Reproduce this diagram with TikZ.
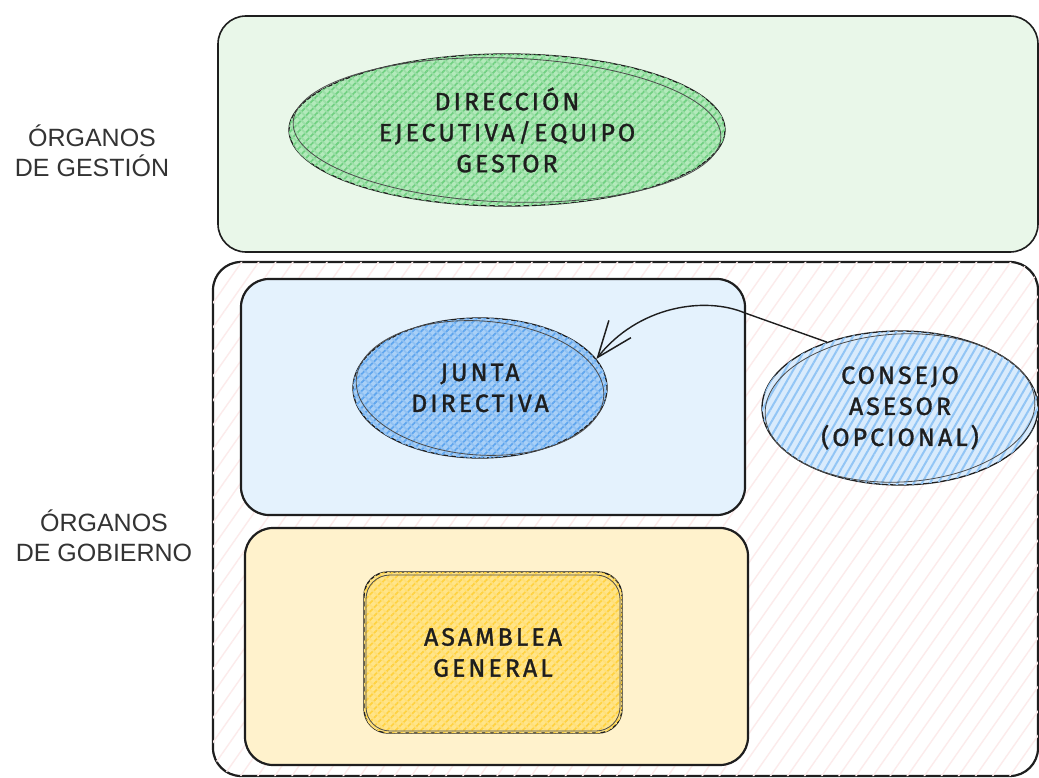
\documentclass[tikz,border=0pt]{standalone}
\usepackage{fontspec}
\setmainfont{Liberation Sans}
\newfontfamily\hand[LetterSpace=12,FakeBold=1.2]{Fira Sans}
\usetikzlibrary{shapes.geometric,patterns.meta,arrows.meta}
\definecolor{gbg}{HTML}{E9F7E9}
\definecolor{gbase}{HTML}{B3EABB}
\definecolor{ghatch}{HTML}{6FD080}
\definecolor{bbg}{HTML}{E4F2FD}
\definecolor{bbase}{HTML}{A9D0F7}
\definecolor{bhatch}{HTML}{5EA5EE}
\definecolor{cbase}{HTML}{D9EBFC}
\definecolor{chatch}{HTML}{92C5F5}
\definecolor{ybg}{HTML}{FFF2CC}
\definecolor{ybase}{HTML}{FFE58A}
\definecolor{yhatch}{HTML}{FFD23F}
\definecolor{phatch}{HTML}{FCEBEB}
\definecolor{ink}{HTML}{1E1E1E}
\definecolor{lbltext}{HTML}{333333}
\begin{document}
\begin{tikzpicture}[x=1pt,y=-1pt,
  sidelabel/.style={font=\fontsize{25}{30}\selectfont, align=center, text=lbltext},
  handtext/.style={font=\hand\fontsize{25}{31}\selectfont, align=center, text=ink},
  bigbox/.style={draw=ink, line width=2.2pt, rounded corners=28pt, inner sep=0pt},
  sketchell/.style={ellipse, draw=ink, line width=1.3pt, inner sep=0pt},
  sketch2/.style={draw=ink!80, line width=0.8pt},
  xhatch/.style 2 args={postaction={pattern={Lines[angle=45,distance=6pt,line width=1.8pt]}, pattern color=#1},
                        postaction={pattern={Lines[angle=-45,distance=6pt,line width=1.8pt]}, pattern color=#2}},
  arr/.style={draw=ink, line width=1.4pt, -{Straight Barb[length=36pt,width=28pt,line width=1.5pt]}}
]
\useasboundingbox (0,0) rectangle (1039,778);
\fill[white] (0,0) rectangle (1039,778);

% top green box
\node[bigbox, fill=gbg, line width=1.6pt, minimum width=820pt, minimum height=236pt] (gestion) at (628,134) {};
% outer gobierno box
\node[bigbox, fill=white, minimum width=825pt, minimum height=514pt,
      postaction={pattern={Lines[angle=55,distance=14pt,line width=1.4pt]}, pattern color=phatch}] (gobierno) at (625.5,519) {};
% blue box
\node[bigbox, fill=bbg, minimum width=504pt, minimum height=236pt] (bluebox) at (493,397) {};
% yellow box
\node[bigbox, fill=ybg, minimum width=503pt, minimum height=237pt] (yellowbox) at (496.5,646.5) {};

% side labels
\node[sidelabel] (lg) at (92,151) {ÓRGANOS\\DE GESTIÓN};
\node[sidelabel] (lgo) at (104,536) {ÓRGANOS\\DE GOBIERNO};

% direccion ejecutiva
\node[sketchell, fill=gbase, xhatch={ghatch}{ghatch!70!white}, minimum width=436pt, minimum height=152pt] (dir) at (507,130) {};
\draw[sketch2] (dir.center) ellipse [x radius=214pt, y radius=72pt, rotate=-2];
\node[handtext] (dirt) at (dir.center) {DIRECCIÓN\\EJECUTIVA/EQUIPO\\GESTOR};

% junta directiva
\node[sketchell, fill=bbase, xhatch={bhatch}{bhatch!70!white}, minimum width=254pt, minimum height=140pt] (junta) at (480,388) {};
\draw[sketch2] (junta.center) ellipse [x radius=124pt, y radius=67pt, rotate=-4];
\node[handtext] (juntat) at (junta.center) {JUNTA\\DIRECTIVA};

% consejo asesor
\node[sketchell, fill=cbase, postaction={pattern={Lines[angle=60,distance=7pt,line width=2pt]}, pattern color=chatch}, minimum width=276pt, minimum height=154pt] (consejo) at (900,408) {};
\draw[sketch2] (consejo.center) ellipse [x radius=135pt, y radius=74pt, rotate=3];
\node[handtext] (consejot) at (consejo.center) {CONSEJO\\ASESOR\\(OPCIONAL)};

% asamblea general
\node[draw=ink, line width=1.4pt, rounded corners=24pt, fill=ybase, xhatch={yhatch}{yhatch!70!white}, minimum width=258pt, minimum height=161pt, inner sep=0pt] (asamblea) at (493,652.5) {};
\draw[sketch2, rounded corners=24pt] (366,575) rectangle (620,731);
\node[handtext] (asamt) at (asamblea.center) {ASAMBLEA\\GENERAL};

% arrow consejo -> junta
\draw[arr] (consejo.138) -- (745,313) .. controls (705,296) and (638,306) .. (junta.14);
\end{tikzpicture}
\end{document}
